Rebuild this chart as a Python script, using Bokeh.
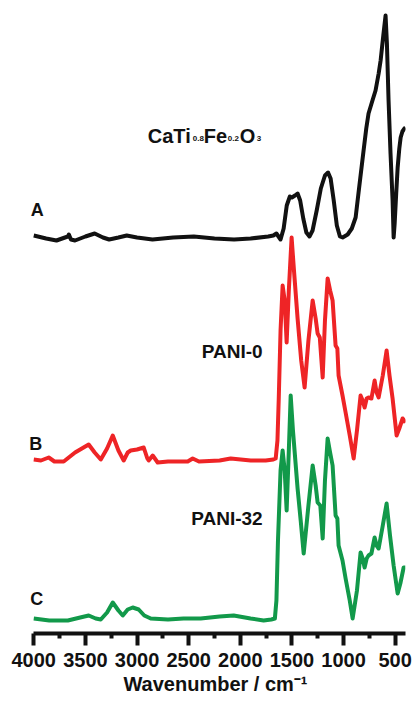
from bokeh.plotting import figure
from bokeh.models import Range1d, FixedTicker
from bokeh.core.properties import value
from bokeh.embed import file_html
from bokeh.resources import INLINE

# ---------------- data (wavenumber in cm^-1, stacked intensity in a.u.) ----------------
wn_a = [4000, 3880, 3780, 3670, 3660, 3640, 3600, 3500, 3410, 3330, 3270, 3180, 3100, 3000,
        2850, 2650, 2450, 2250, 2060, 1900, 1730, 1680, 1650, 1610, 1580, 1550, 1520, 1500,
        1470, 1445, 1420, 1390, 1360, 1330, 1300, 1260, 1220, 1180, 1150, 1125, 1095, 1065,
        1035, 1009, 960, 920, 883, 850, 806, 780, 758, 720, 690, 660, 641, 615, 593, 580,
        564, 545, 525, 515, 505, 490, 476, 460, 447, 430, 410, 400]
int_a = [398, 395, 393, 397, 399, 394, 393, 397, 400, 396, 394, 396, 398, 396,
         394, 396, 397, 395, 394, 395, 397, 398, 400, 394, 405, 428, 437, 436,
         438, 440, 433, 415, 401, 397, 403, 423, 445, 458, 461, 455, 433, 408,
         397, 396, 399, 405, 416, 445, 483, 505, 520, 533, 543, 560, 573, 598, 618, 590,
         533, 480, 433, 396, 410, 440, 466, 485, 496, 502, 505, 506]

wn_b = [4000, 3930, 3855, 3800, 3710, 3600, 3468, 3410, 3351, 3290, 3235, 3180, 3129, 3090,
        3061, 3000, 2935, 2900, 2887, 2848, 2800, 2700, 2509, 2461, 2400, 2200, 2093, 1899,
        1754, 1680, 1657, 1640, 1628, 1610, 1590, 1570, 1551, 1530, 1503, 1480, 1445, 1410,
        1377, 1340, 1299, 1270, 1251, 1230, 1202, 1180, 1154, 1130, 1106, 1077, 1060, 1048,
        1010, 980, 940, 902, 870, 835, 815, 796, 776, 758, 730, 699, 680, 660, 620, 583,
        555, 525, 486, 460, 428, 400]
int_b = [174, 173, 176, 172, 172, 181, 189, 181, 174, 185, 198, 183, 173, 181,
         183, 184, 186, 175, 173, 178, 171, 172, 172, 175, 172, 173, 175, 173,
         173, 174, 175, 193, 233, 303, 348, 333, 291, 343, 396, 363, 315, 273,
         246, 293, 333, 315, 300, 296, 256, 313, 355, 343, 333, 288, 285, 258,
         238, 221, 198, 175, 203, 238, 233, 226, 235, 236, 235, 253, 241, 236, 258, 283,
         258, 235, 198, 205, 215, 211]

wn_c = [4000, 3850, 3670, 3550, 3468, 3400, 3351, 3290, 3235, 3180, 3138, 3090, 3042, 2984,
        2930, 2867, 2700, 2550, 2383, 2200, 2064, 1900, 1774, 1700, 1665, 1650, 1635, 1610,
        1590, 1570, 1551, 1530, 1512, 1490, 1445, 1415, 1386, 1340, 1299, 1270, 1251, 1225,
        1202, 1180, 1154, 1130, 1106, 1077, 1060, 1048, 1010, 980, 940, 912, 870, 835, 815,
        796, 776, 758, 730, 699, 680, 660, 620, 583, 550, 515, 476, 450, 418, 400]
int_c = [15, 13, 13, 16, 18, 15, 14, 21, 31, 23, 18, 24, 26, 24,
         18, 15, 14, 15, 15, 17, 18, 15, 13, 14, 15, 33, 93, 163,
         183, 163, 123, 183, 238, 203, 145, 113, 80, 128, 168, 148, 131, 128,
         95, 153, 195, 181, 168, 118, 115, 88, 73, 55, 33, 15, 43, 81, 75,
         66, 75, 78, 80, 96, 88, 85, 108, 130, 98, 68, 40, 50, 66, 66]

x_ticks = [4000, 3500, 3000, 2500, 2000, 1500, 1000, 500]
x_minor = [3750, 3250, 2750, 2250, 1750, 1250, 750]

# ---------------- figure ----------------
FONT = "Liberation Sans"

p = figure(width=412, height=701, output_backend="svg", toolbar_location=None,
           x_range=Range1d(4080, 400), y_range=Range1d(0, 633),
           min_border_left=25, min_border_right=7, min_border_top=0, min_border_bottom=68)
p.outline_line_color = None
p.grid.visible = False
p.yaxis.visible = False
p.background_fill_color = "white"
p.border_fill_color = "white"

lw = 4
p.line(wn_a, int_a, line_color="#111111", line_width=lw, line_join="round")
p.line(wn_b, int_b, line_color="#ee2426", line_width=lw, line_join="round")
p.line(wn_c, int_c, line_color="#12994a", line_width=lw, line_join="round")

# axis
ax = p.xaxis[0]
ax.bounds = (400, 4000)
ax.ticker = FixedTicker(ticks=x_ticks, minor_ticks=x_minor)
ax.axis_line_width = 4
ax.axis_line_color = "#111111"
ax.major_tick_line_width = 4
ax.major_tick_line_color = "#111111"
ax.minor_tick_line_width = 4
ax.minor_tick_line_color = "#111111"
ax.major_tick_in = 0
ax.major_tick_out = 12
ax.minor_tick_in = 0
ax.minor_tick_out = 5
ax.major_label_text_font = FONT
ax.major_label_text_font_style = "bold"
ax.major_label_text_font_size = "20px"
ax.major_label_text_color = "#111111"
ax.major_label_standoff = 7
ax.axis_label = "Wavenumber / cm⁻¹"
ax.axis_label_text_font = FONT
ax.axis_label_text_font_style = "bold"
ax.axis_label_text_font_size = "20px"
ax.axis_label_text_color = "#111111"
ax.axis_label_standoff = 3

# curve letters and names
def label(x, y, txt, size, align="center", baseline="middle", xo=0, yo=0):
    p.text(x=[x], y=[y], text=[txt], text_font=value(FONT), text_font_style="bold",
           text_font_size=size, text_align=align, text_baseline=baseline,
           text_color="#111111", x_offset=xo, y_offset=yo)

label(3966, 424, "A", "18px")
label(3980, 190, "B", "18px")
label(3971, 35, "C", "18px")
label(1783, 282, "PANI-0", "19px", align="right")
label(1783, 115, "PANI-32", "19px", align="right")

# CaTi0.8Fe0.2O3 with subscripts
fx, fy = 2896, 498
label(fx, fy, "CaTi", "20px", align="left", baseline="alphabetic", xo=0)
label(fx, fy, "0.8", "8px", align="left", baseline="alphabetic", xo=45, yo=3)
label(fx, fy, "Fe", "20px", align="left", baseline="alphabetic", xo=56)
label(fx, fy, "0.2", "8px", align="left", baseline="alphabetic", xo=80, yo=3)
label(fx, fy, "O", "20px", align="left", baseline="alphabetic", xo=92)
label(fx, fy, "3", "8px", align="left", baseline="alphabetic", xo=109, yo=3)

open("out.html", "w").write(file_html(p, INLINE))
